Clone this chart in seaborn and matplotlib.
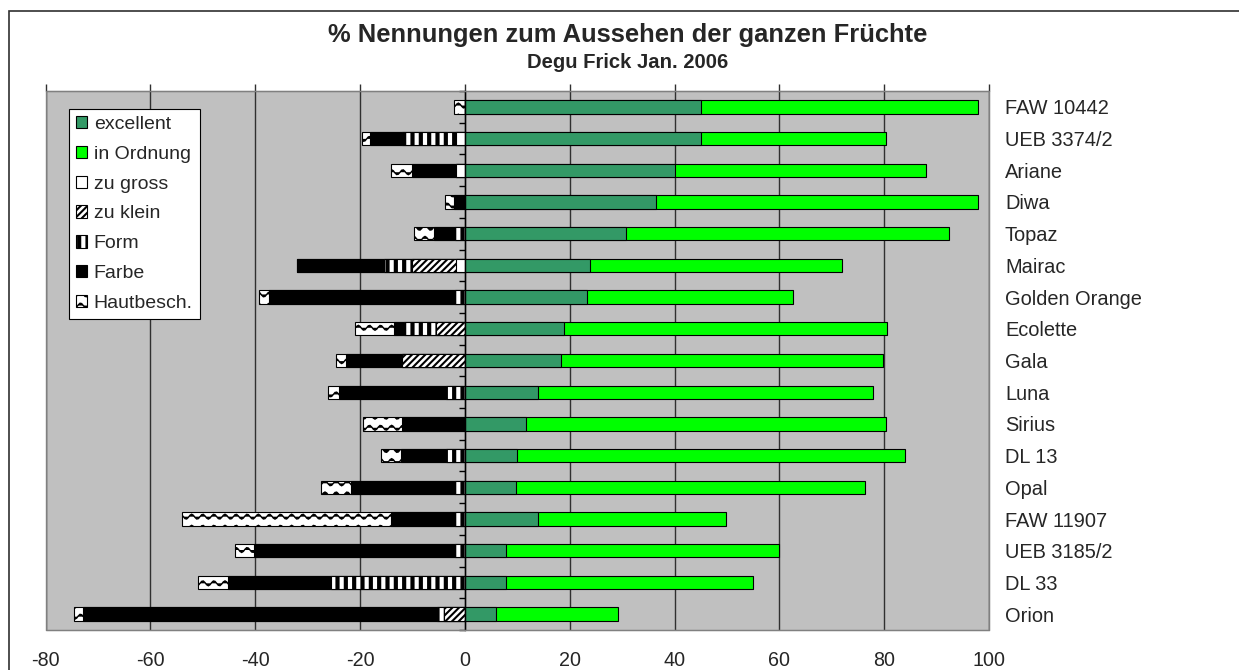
# % Nennungen zum Aussehen der ganzen Früchte - gestapelte Balken (Nachbau)

import warnings
import numpy as np
import matplotlib
matplotlib.use('Agg')
import matplotlib.pyplot as plt
from matplotlib.patches import Patch, Rectangle
from matplotlib.path import Path
from matplotlib import hatch as mhatch
import seaborn as sns

warnings.filterwarnings('ignore')

sorten = ['FAW 10442', 'UEB 3374/2', 'Ariane', 'Diwa', 'Topaz', 'Mairac',
          'Golden Orange', 'Ecolette', 'Gala', 'Luna', 'Sirius', 'DL 13',
          'Opal', 'FAW 11907', 'UEB 3185/2', 'DL 33', 'Orion']
# positive Nennungen
excellent = [45.0, 45.0, 40.0, 36.4, 30.8, 23.8, 23.4, 19.0, 18.3, 14.0,
             11.7, 9.9, 9.7, 14.0, 7.9, 7.9, 5.9]
in_ordnung = [52.9, 35.4, 48.0, 61.5, 61.5, 48.2, 39.3, 61.6, 61.4, 63.9,
              68.7, 74.1, 66.6, 35.9, 52.1, 47.1, 23.4]
# negative Nennungen (als Betrag)
zu_gross = [0, 1.7, 1.7, 0, 0, 1.7, 0, 0, 0, 0, 0, 0, 0, 0, 0, 0, 0]
zu_klein = [0, 0, 0, 0, 0, 8.3, 0, 5.5, 11.9, 0, 0, 0, 0, 0, 0, 0, 4.0]
form = [0, 10.2, 0, 0, 1.9, 5.4, 1.9, 6.1, 0, 3.6, 0, 3.6, 1.9, 1.9, 1.9,
        25.5, 1.3]
farbe = [0, 6.1, 8.3, 2.0, 4.0, 16.6, 35.5, 1.9, 10.8, 20.4, 11.9, 8.6,
         19.8, 12.1, 38.4, 19.6, 67.6]
hautbesch = [2.0, 1.6, 4.0, 1.8, 3.8, 0, 1.9, 7.5, 1.9, 2.1, 7.6, 3.8, 5.7,
             40.0, 3.6, 5.9, 1.6]
x_ticks = [-80, -60, -40, -20, 0, 20, 40, 60, 80, 100]


# Wellenmuster für "Hautbesch." (gibt es in matplotlib nicht)
class Wellen(mhatch.HatchPatternBase):
    def __init__(self, hatch, density):
        self.num_lines = int(hatch.count('~') * density * 1.5)
        self.num_pts = 61
        self.num_vertices = self.num_lines * self.num_pts

    def set_vertices_and_codes(self, vertices, codes):
        t = np.linspace(0.0, 1.0, self.num_pts)
        step = 1.0 / self.num_lines
        for i in range(self.num_lines):
            a = i * self.num_pts
            vertices[a:a + self.num_pts, 0] = t
            vertices[a:a + self.num_pts, 1] = (i + 0.5) * step + 0.22 * step * np.sin(2 * np.pi * 9 * t)
            codes[a:a + self.num_pts] = Path.LINETO
            codes[a] = Path.MOVETO


mhatch._hatch_types.append(Wellen)

sns.set_style('white')
plt.rcParams['font.family'] = ['Liberation Sans', 'DejaVu Sans']

W, H = 1239, 670
fig = plt.figure(figsize=(W / 100, H / 100), dpi=100)
ax = fig.add_axes([45.5 / W, 1 - 630 / H, (989 - 45.5) / W, (630 - 91) / H])
ax.set_facecolor('#c0c0c0')
ax.set_axisbelow(True)

neg_cum = np.cumsum(np.array([zu_gross, zu_klein, form, farbe, hautbesch]), axis=0)
pos_cum = np.cumsum(np.array([excellent, in_ordnung]), axis=0)

stil = dict(width=0.42, edgecolor='black', linewidth=0.8, saturation=1,
            errorbar=None, ax=ax, orient='y')

# aussen zuerst zeichnen, innere Balken überdecken
lagen = [(-neg_cum[4], 'white', '~', 1.0),
         (-neg_cum[3], 'black', None, 1.0),
         (-neg_cum[2], 'white', '||', 3.0),
         (-neg_cum[1], 'white', '/////', 1.5),
         (-neg_cum[0], 'white', None, 1.0),
         (pos_cum[1], '#00ff00', None, 1.0),
         (pos_cum[0], '#339966', None, 1.0)]
for werte, fc, muster, hlw in lagen:
    plt.rcParams['hatch.linewidth'] = hlw
    n = len(ax.patches)
    sns.barplot(x=werte, y=sorten, color=fc, hatch=muster, **stil)
    for p in ax.patches[n:]:
        if hasattr(p, 'set_hatch_linewidth'):
            p.set_hatch_linewidth(hlw)

ax.set_xlim(-80, 100)
ax.set_ylim(len(sorten) - 0.5, -0.5)
ax.set_xlabel('')
ax.set_ylabel('')
ax.set_xticks(x_ticks)
ax.set_xticklabels([str(v) for v in x_ticks])
ax.grid(axis='x', color='#303030', linewidth=1.0)
ax.grid(axis='y', visible=False)

# Nulllinie als linke Achse
ax.spines['left'].set_position(('data', 0))
ax.spines['left'].set_color('black')
ax.spines['left'].set_linewidth(1.0)
ax.spines['top'].set_color('#303030')
ax.spines['bottom'].set_color('#808080')
ax.spines['right'].set_color('#808080')
ax.add_patch(Rectangle((0, 0), 1, 1, transform=ax.transAxes, fill=False,
                       edgecolor='#808080', linewidth=1.0, zorder=3, clip_on=False))

ax.set_yticks(np.arange(-0.5, len(sorten), 1), minor=True)
ax.tick_params(axis='y', which='minor', left=True, right=False, length=4.5,
               width=1, color='black', direction='out')
ax.tick_params(axis='y', which='major', left=False, right=False, labelleft=False,
               labelright=True, length=0, pad=11.5, labelsize=14.4)
ax.tick_params(axis='x', which='major', top=True, bottom=False, labeltop=False,
               labelbottom=True, length=5, width=1, color='#303030',
               direction='out', pad=10, labelsize=14.2)

# Legende
eintraege = [('excellent', '#339966', None, 1.0), ('in Ordnung', '#00ff00', None, 1.0),
             ('zu gross', 'white', None, 1.0), ('zu klein', 'white', '/////', 1.5),
             ('Form', 'white', '||', 3.0), ('Farbe', 'black', None, 1.0),
             ('Hautbesch.', 'white', '~', 1.0)]
griffe = [Patch(facecolor=fc, edgecolor='black', hatch=m, linewidth=0.8, label=t)
          for t, fc, m, _ in eintraege]
leg = fig.legend(handles=griffe, loc='upper left', bbox_to_anchor=(69 / W, 1 - 109 / H),
                 bbox_transform=fig.transFigure, borderaxespad=0, fontsize=14.0,
                 frameon=True, fancybox=False, framealpha=1, edgecolor='black',
                 handlelength=0.6, handleheight=0.6, handletextpad=0.32,
                 labelspacing=0.66, borderpad=0.35)
leg.get_frame().set_linewidth(0.8)
for p, (_, _, _, hlw) in zip(leg.get_patches(), eintraege):
    if hasattr(p, 'set_hatch_linewidth'):
        p.set_hatch_linewidth(hlw)

fig.text(628 / W, 1 - 41.7 / H, '% Nennungen zum Aussehen der ganzen Früchte',
         ha='center', va='baseline', fontsize=18.4, weight='bold')
fig.text(628 / W, 1 - 68.3 / H, 'Degu Frick Jan. 2006',
         ha='center', va='baseline', fontsize=14.6, weight='bold')

# äusserer Rahmen
fig.patches.append(Rectangle((9 / W, -0.1), 1.2, 1 - 11 / H + 0.1,
                             transform=fig.transFigure, fill=False,
                             edgecolor='#303030', linewidth=1.2))

fig.savefig('out.png', dpi=100)
